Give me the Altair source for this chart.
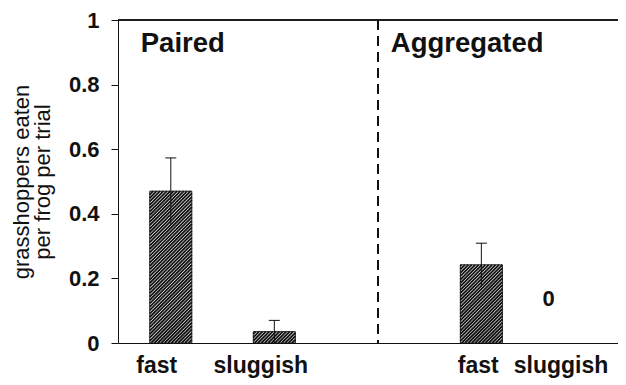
import altair as alt
import pandas as pd

# ---- data ----
groups = ["Paired", "Paired", "Aggregated", "Aggregated"]
speeds = ["fast", "sluggish", "fast", "sluggish"]
slots = [1, 2, 4, 5]
means = [0.47, 0.035, 0.242, 0.0]
errors = [0.103, 0.035, 0.067, 0.0]
label_pos = [0.865, 1.87, 3.97, 4.77]
group_titles = ["Paired", "Aggregated"]
group_title_pos = [0.71, 3.125]
zero_note = "0"
zero_note_pos = 4.65
zero_note_y = 0.137
divider_pos = 3

W, H = 500, 323
XDOM = [0.49, 5.32]
kx = W / (XDOM[1] - XDOM[0])
ky = H / 1.0
half_w = 21 / kx

FONT = "Liberation Sans"
BLACK = "#111111"

bars = pd.DataFrame({
    "group": groups, "speed": speeds, "slot": slots,
    "mean": means, "err": errors,
})
bars["x0"] = bars["slot"] - half_w
bars["x1"] = bars["slot"] + half_w
bars["lo"] = bars["mean"] - bars["err"]
bars["hi"] = bars["mean"] + bars["err"]
bars["c0"] = bars["slot"] - 5.5 / kx
bars["c1"] = bars["slot"] + 5.5 / kx

# hatch segments (///) clipped to each bar, derived from bar values
segs = []
period = 3.4
for _, r in bars.iterrows():
    if r["mean"] <= 0:
        continue
    Wp = 2 * half_w * kx
    Hp = r["mean"] * ky
    c = -Wp
    while c < Hp:
        u0 = max(0.0, -c)
        u1 = min(Wp, Hp - c)
        if u1 > u0:
            segs.append({
                "xa": r["x0"] + u0 / kx, "ya": (u0 + c) / ky,
                "xb": r["x0"] + u1 / kx, "yb": (u1 + c) / ky,
            })
        c += period
hatch = pd.DataFrame(segs)

xscale = alt.Scale(domain=XDOM, nice=False, zero=False)
yscale = alt.Scale(domain=[0, 1], nice=False)

base = alt.Chart(bars)

bar_layer = base.transform_filter("datum.mean > 0").mark_rect(
    fill="white", stroke=BLACK, strokeWidth=1).encode(
    x=alt.X("x0:Q", scale=xscale,
            axis=alt.Axis(labels=False, ticks=False, grid=False, title=None,
                          domainColor=BLACK, domainWidth=1.2)),
    x2="x1:Q",
    y=alt.Y("mean:Q", scale=yscale,
            axis=alt.Axis(values=[0, 0.2, 0.4, 0.6, 0.8, 1.0], format=".1~f",
                          grid=False, tickSize=7, tickColor=BLACK,
                          domainColor=BLACK, labelColor=BLACK,
                          labelFont=FONT, labelFontSize=22,
                          labelFontWeight="bold", labelPadding=12,
                          title=["grasshoppers eaten", "per frog per trial"],
                          titleFont=FONT, titleFontSize=22,
                          titleFontWeight="normal", titleColor=BLACK,
                          titlePadding=14, titleLineHeight=21)),
    y2=alt.datum(0),
)

hatch_layer = alt.Chart(hatch).mark_rule(color=BLACK, strokeWidth=1.8).encode(
    x=alt.X("xa:Q", scale=xscale), y=alt.Y("ya:Q", scale=yscale),
    x2="xb:Q", y2="yb:Q",
)

err_layer = base.transform_filter("datum.err > 0").mark_rule(
    color=BLACK, strokeWidth=1).encode(
    x=alt.X("slot:Q", scale=xscale), y=alt.Y("lo:Q", scale=yscale), y2="hi:Q",
)
cap_layer = base.transform_filter("datum.err > 0").mark_rule(
    color=BLACK, strokeWidth=1).encode(
    x=alt.X("c0:Q", scale=xscale), x2="c1:Q", y=alt.Y("hi:Q", scale=yscale),
)

top_rule = alt.Chart(bars).mark_rule(color=BLACK, strokeWidth=1.2).encode(
    y=alt.datum(1, scale=yscale))
divider = alt.Chart(bars).mark_rule(
    color=BLACK, strokeWidth=1.6, strokeDash=[10, 6]).encode(
    x=alt.datum(divider_pos, scale=xscale))

lab_df = pd.DataFrame({"text": speeds, "pos": label_pos})
cat_labels = alt.Chart(lab_df).mark_text(
    font=FONT, fontSize=23, fontWeight="bold", color=BLACK,
    baseline="alphabetic", align="center").encode(
    x=alt.X("pos:Q", scale=xscale), y=alt.value(H + 30), text="text:N")

gt_df = pd.DataFrame({"text": group_titles, "pos": group_title_pos})
group_labels = alt.Chart(gt_df).mark_text(
    font=FONT, fontSize=27.5, fontWeight="bold", color=BLACK,
    baseline="alphabetic", align="left").encode(
    x=alt.X("pos:Q", scale=xscale), y=alt.datum(0.9, scale=yscale),
    text="text:N")

zn_df = pd.DataFrame({"text": [zero_note], "pos": [zero_note_pos],
                      "y": [zero_note_y]})
zero_label = alt.Chart(zn_df).mark_text(
    font=FONT, fontSize=22, fontWeight="bold", color=BLACK,
    baseline="middle", align="center").encode(
    x=alt.X("pos:Q", scale=xscale), y=alt.Y("y:Q", scale=yscale),
    text="text:N")

chart = alt.layer(
    bar_layer, hatch_layer, err_layer, cap_layer, top_rule, divider,
    cat_labels, group_labels, zero_label,
).properties(
    width=W, height=H,
    autosize=alt.AutoSizeParams(type="none"),
    padding={"left": 110, "top": 12, "right": 0, "bottom": 35},
).configure_view(stroke=None).configure(background="white")

chart.save("out.html", embed_options={"renderer": "svg", "actions": False})
